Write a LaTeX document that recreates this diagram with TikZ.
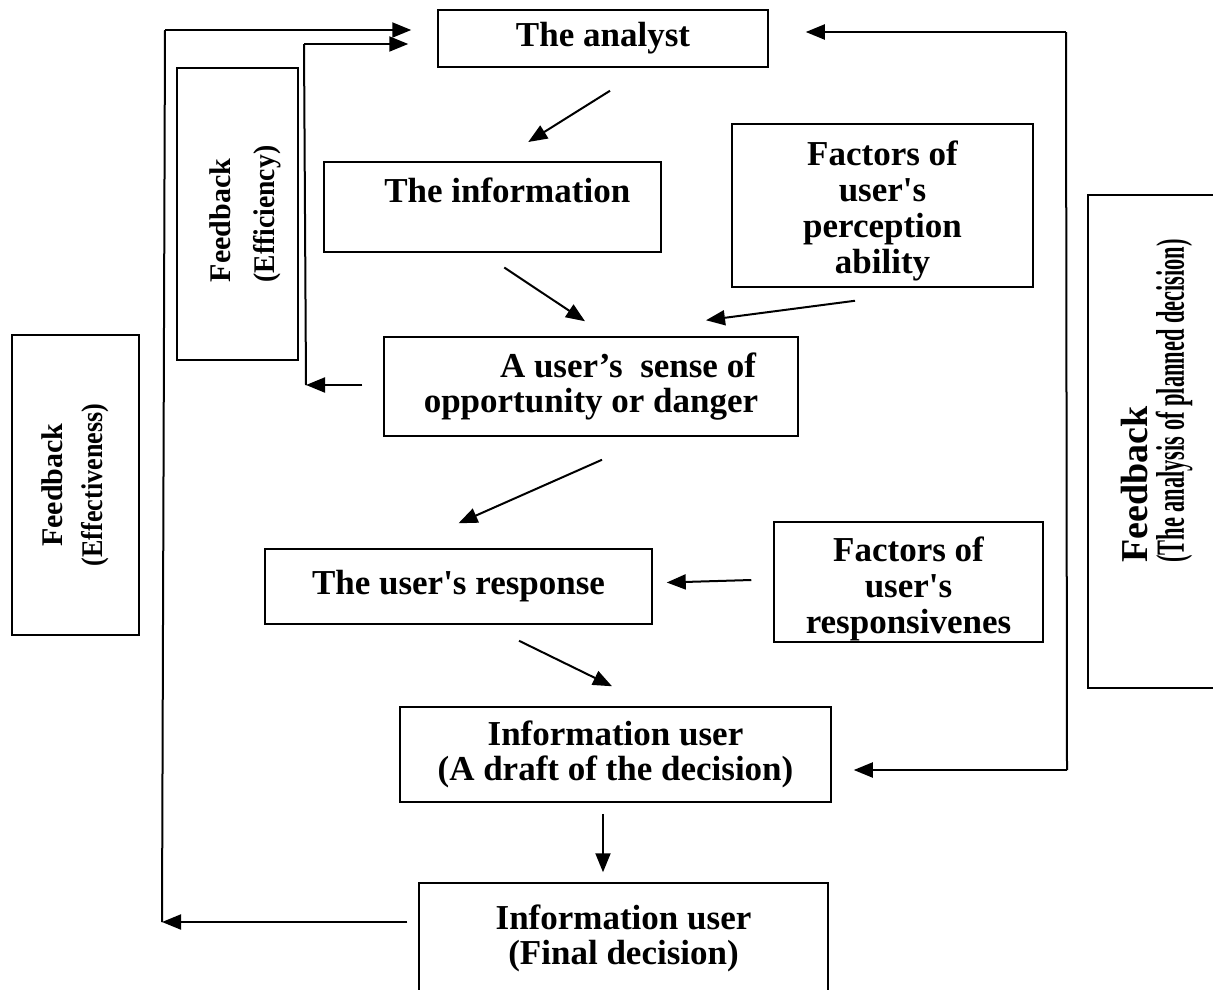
\documentclass[tikz,border=0pt]{standalone}
\usepackage{graphicx}
\usepackage{fontspec}
\setmainfont{Liberation Serif}
\usetikzlibrary{calc, arrows.meta}

\newcommand{\apos}{\textquotesingle}

\tikzset{
	box/.style={draw, line width=1.5pt, align=center, inner sep=0pt, font=\bfseries\fontsize{35}{35}\selectfont},
	fbbox/.style={draw, line width=1.5pt, rotate=90, align=center, inner sep=0pt},
	arr/.style={-{Triangle[length=19pt,width=15pt]}, line width=2pt},
	wire/.style={line width=2pt}
}

\begin{document}
\begin{tikzpicture}[x=1pt, y=-1pt]
		%page
		\useasboundingbox (0,0) rectangle (1213,989);
		\clip (0,0) rectangle (1213,989);
		
		%main column
		\node [box, minimum width=330pt, minimum height=57pt] (analyst) at (603,38.5) {The analyst};
		\node [box, anchor=north west, minimum width=337pt, inner ysep=17pt, text height=24pt, text depth=32pt] (info) at (323,161) {\hspace*{30pt}The information};
		\node [box, minimum width=414pt, minimum height=99pt] (sense) at (591,386.5) {\hspace*{74pt}A user’s\ \ sense of\\opportunity or danger};
		\node [box, minimum width=387pt, minimum height=75pt] (response) at (458.5,586.5) {The user\apos s response};
		\node [box, minimum width=431pt, minimum height=95pt] (draft) at (615.5,754.5) {Information user\\(A draft of the decision)};
		\node [box, minimum width=409pt, minimum height=110pt] (final) at (623.5,938) {Information user\\(Final decision)};
		
		%factors
		\node [box, minimum width=301pt, minimum height=163pt, font=\bfseries\fontsize{35}{36}\selectfont] (perception) at (882.5,205.5) {\rule{0pt}{36pt}Factors of\\user\apos s\\perception\\ability};
		\node [box, minimum width=269pt, minimum height=120pt, font=\bfseries\fontsize{35}{36}\selectfont] (responsive) at (908.5,582) {\rule{0pt}{38pt}Factors of\\user\apos s\\responsivenes};
		
		%feedback boxes
		\node [fbbox, minimum width=292pt, minimum height=121pt, align=left, font=\bfseries\fontsize{30}{44}\selectfont] (efficiency) at (237.5,214) {\rule{0pt}{37pt}Feedback\\\scalebox{0.92}[1]{(Efficiency)}};
		\node [fbbox, minimum width=300pt, minimum height=127pt, font=\bfseries\fontsize{30}{40}\selectfont] (effectiveness) at (75.5,485) {Feedback\\\scalebox{0.87}[1]{(Effectiveness)}};
		\node [fbbox, minimum width=493pt, minimum height=140pt] (planned) at (1158,441.5) {};
		\node [rotate=90, align=left, inner sep=0pt, font=\bfseries\fontsize{38}{36}\selectfont] (plannedtext) at (1157,401) {Feedback\\\scalebox{0.56}[1]{\fontsize{40}{36}\selectfont(The analysis of planned decision)}};
		
		%loop corners
		\coordinate (outerTop) at (165,30);
		\coordinate (outerBot) at (162,922);
		\coordinate (innerTop) at (304,44);
		\coordinate (innerBot) at (306,385);
		\coordinate (rightTop) at (1066,32);
		\coordinate (rightBot) at (1067,770);
		
		%feedback loops
		\draw [arr] ([xshift=-11pt]final.north west |- outerBot) -- (outerBot);
		\draw [wire] (outerBot) -- (outerTop);
		\draw [arr] (outerTop) -- ([xshift=-26pt]analyst.west |- outerTop);
		
		\draw [arr] ([xshift=-21pt]sense.west |- innerBot) -- (innerBot);
		\draw [wire] (innerBot) -- (innerTop);
		\draw [arr] (innerTop) -- ([xshift=-29pt]analyst.west |- innerTop);
		
		\draw [wire] (rightBot) -- (rightTop);
		\draw [arr] (rightTop) -- ([xshift=37pt]analyst.east |- rightTop);
		\draw [arr] (rightBot) -- ([xshift=22pt]draft.east |- rightBot);
		
		%flow arrows
		\draw [arr] ($(analyst.south)+(7,23)$) -- ($(info.north)+(36,-19)$);
		\draw [arr] ($(info.south)+(12,15)$) -- ($(sense.north)+(-6,-15)$);
		\draw [arr] ($(perception.south)+(-27.5,13)$) -- ($(sense.north)+(115,-16)$);
		\draw [arr] ($(sense.south)+(11,23)$) -- ($(response.north)+(0,-25)$);
		\draw [arr] ($(responsive.west)+(-22,-2)$) -- ($(response.east)+(14,-4)$);
		\draw [arr] ($(response.south)+(60.5,16)$) -- ($(draft.north)+(-3.5,-20)$);
		\draw [arr] ($(draft.south)+(-12.5,11)$) -- ($(final.north)+(-20.5,-10)$);
	\end{tikzpicture}
\end{document}
